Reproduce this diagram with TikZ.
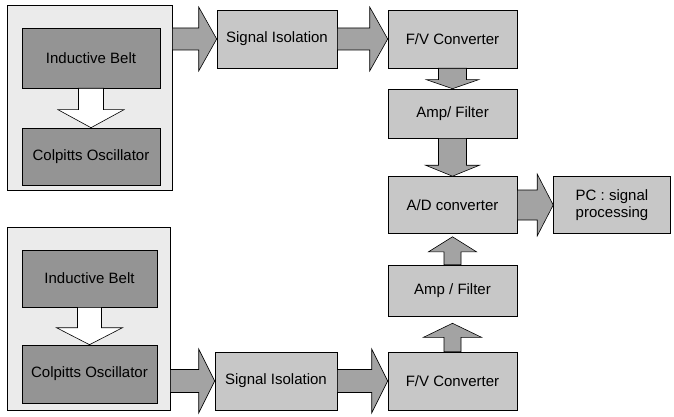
\documentclass[tikz,border=0pt]{standalone}
\usepackage{fontspec}
\setmainfont{Liberation Sans}
\usetikzlibrary{calc}

% block arrow: style, from, to, shaft half-width, head half-width, head length
\newcommand{\blockarrow}[6]{%
  \coordinate (ba-hb) at ($(#3)!#6!(#2)$);
  \draw[#1] ($(#2)!#4!90:(#3)$) -- ($(ba-hb)!#4!-90:(#2)$) -- ($(ba-hb)!#5!-90:(#2)$) -- (#3)
    -- ($(ba-hb)!#5!90:(#2)$) -- ($(ba-hb)!#4!90:(#2)$) -- ($(#2)!#4!-90:(#3)$) -- cycle;
}

\begin{document}
\begin{tikzpicture}[x=1pt, y=-1pt, font=\fontsize{15}{17}\selectfont,
    groupbox/.style={draw, line width=0.8pt, fill=black!8},
    darkbox/.style={draw, line width=0.6pt, fill=black!42, inner sep=0pt},
    procbox/.style={draw, line width=0.6pt, fill=black!22, inner sep=0pt, align=center},
    grayarrow/.style={draw, line width=0.6pt, fill=black!36, line join=miter},
    whitearrow/.style={draw, line width=0.6pt, fill=white, line join=miter}]
  \useasboundingbox (0,0) rectangle (674,417);

  % upper sensor channel
  \node[groupbox, minimum width=165, minimum height=185] (outerA) at (89.5,97.5) {};
  \node[darkbox, minimum width=138, minimum height=60] (beltA) at (91,58) {Inductive Belt};
  \node[darkbox, minimum width=138, minimum height=57] (oscA) at (91,156.5) {Colpitts Oscillator};
  \node[procbox, minimum width=120, minimum height=58] (sigA) at (277,39) {Signal Isolation};
  \node[procbox, minimum width=129, minimum height=58] (fvA) at (452.5,39) {F/V Converter};
  \node[procbox, minimum width=129, minimum height=49] (ampA) at (452.5,113.5) {Amp/ Filter};

  % common part
  \node[procbox, minimum width=129, minimum height=57] (adc) at (452.5,205) {A/D converter};
  \node[procbox, minimum width=117, minimum height=57] (pc) at (612,205) {PC : signal\\processing};

  % lower sensor channel
  \node[groupbox, minimum width=163, minimum height=183] (outerB) at (88.5,318.5) {};
  \node[darkbox, minimum width=135, minimum height=57] (beltB) at (89.5,278.5) {Inductive Belt};
  \node[darkbox, minimum width=135, minimum height=58] (oscB) at (89.5,374) {Colpitts Oscillator};
  \node[procbox, minimum width=122, minimum height=58] (sigB) at (276,381) {Signal Isolation};
  \node[procbox, minimum width=129, minimum height=58] (fvB) at (452.5,381) {F/V Converter};
  \node[procbox, minimum width=129, minimum height=51] (ampB) at (452.5,290.5) {Amp / Filter};

  \coordinate (outA) at (outerA.east |- sigA.west);
  \coordinate (outB) at (outerB.east |- sigB.west);
  \coordinate (adcIn) at ($(adc.south)+(0,3)$);
  \coordinate (ampIn) at ($(ampB.south)+(0,7)$);

  % arrows
  \blockarrow{whitearrow}{beltA.south}{oscA.north}{12.5pt}{33pt}{18pt}
  \blockarrow{whitearrow}{beltB.south}{oscB.north}{12pt}{33pt}{17pt}
  \blockarrow{grayarrow}{outA}{sigA.west}{11pt}{32pt}{18pt}
  \blockarrow{grayarrow}{sigA.east}{fvA.west}{11pt}{32pt}{18pt}
  \blockarrow{grayarrow}{fvA.south}{ampA.north}{14pt}{26pt}{9pt}
  \blockarrow{grayarrow}{ampA.south}{adc.north}{14pt}{27pt}{11pt}
  \blockarrow{grayarrow}{adc.east}{pc.west}{15pt}{31pt}{16pt}
  \blockarrow{grayarrow}{ampB.north}{adcIn}{8.5pt}{24pt}{15pt}
  \blockarrow{grayarrow}{fvB.north}{ampIn}{8.5pt}{29pt}{14pt}
  \blockarrow{grayarrow}{outB}{sigB.west}{11.5pt}{32pt}{16pt}
  \blockarrow{grayarrow}{sigB.east}{fvB.west}{11.5pt}{32pt}{16pt}
\end{tikzpicture}
\end{document}
